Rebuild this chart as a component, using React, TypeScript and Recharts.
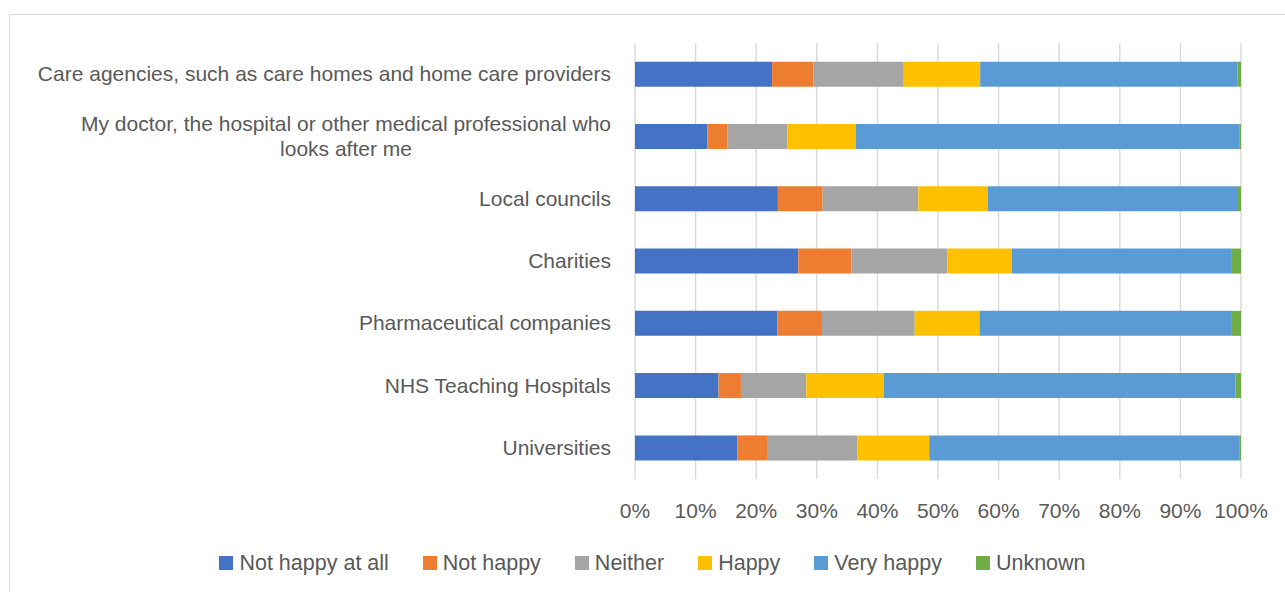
import { Bar, BarChart, CartesianGrid, XAxis, YAxis } from "recharts";

const categories = [
  "Care agencies, such as care homes and home care providers",
  "My doctor, the hospital or other medical professional who looks after me",
  "Local councils ",
  "Charities",
  "Pharmaceutical companies",
  "NHS Teaching Hospitals",
  "Universities",
];

const notHappyAtAll = [22.6, 11.9, 23.6, 26.9, 23.5, 13.8, 16.9];
const notHappy = [6.8, 3.3, 7.4, 8.8, 7.4, 3.7, 4.9];
const neither = [14.9, 9.9, 15.8, 15.8, 15.3, 10.8, 14.9];
const happy = [12.6, 11.3, 11.5, 10.6, 10.7, 12.8, 11.9];
const veryHappy = [42.4, 63.3, 41.3, 36.3, 41.7, 58.1, 51.3];
const unknown = [0.6, 0.2, 0.5, 1.5, 1.5, 0.9, 0.2];

const xTicks = [0, 0.1, 0.2, 0.3, 0.4, 0.5, 0.6, 0.7, 0.8, 0.9, 1];

const SERIES = [
  { key: "Not happy at all", values: notHappyAtAll, color: "#4472C4" },
  { key: "Not happy", values: notHappy, color: "#ED7D31" },
  { key: "Neither", values: neither, color: "#A5A5A5" },
  { key: "Happy", values: happy, color: "#FFC000" },
  { key: "Very happy", values: veryHappy, color: "#5B9BD5" },
  { key: "Unknown", values: unknown, color: "#70AD47" },
];

const data = categories.map((name, i) => {
  const row: Record<string, number | string> = { name };
  SERIES.forEach((s) => {
    row[s.key] = s.values[i];
  });
  return row;
});

const FONT = "'Liberation Sans', Arial, sans-serif";
const FONT_SIZE = 21;
const TEXT = "#595959";

let ctx: CanvasRenderingContext2D | null = null;
function measure(text: string) {
  if (!ctx) ctx = document.createElement("canvas").getContext("2d");
  if (!ctx) return text.length * FONT_SIZE * 0.5;
  ctx.font = `${FONT_SIZE}px 'Liberation Sans'`;
  return ctx.measureText(text).width;
}

// wrap long category names the way Excel does (centred lines, right-aligned block)
function wrap(label: string, maxWidth: number) {
  const words = label.split(" ");
  const lines: string[] = [];
  let cur = "";
  words.forEach((w) => {
    const next = cur ? `${cur} ${w}` : w;
    if (cur && measure(next) > maxWidth) {
      lines.push(cur);
      cur = w;
    } else {
      cur = next;
    }
  });
  if (cur) lines.push(cur);
  return lines;
}

function CategoryTick(props: any) {
  const { x, y, payload } = props;
  const lines = wrap(String(payload.value).trim(), 578);
  const widest = Math.max(...lines.map(measure));
  const cx = x - widest / 2;
  const lineH = 25;
  const startY = y - 1 - ((lines.length - 1) * lineH) / 2;
  return (
    <text
      fill={TEXT}
      fontSize={FONT_SIZE}
      fontFamily={FONT}
      textAnchor="middle"
      dominantBaseline="central"
    >
      {lines.map((l, i) => (
        <tspan key={i} x={cx} y={startY + i * lineH}>
          {l}
        </tspan>
      ))}
    </text>
  );
}

export default function App() {
  return (
    <div
      style={{
        position: "absolute",
        left: 0,
        top: 0,
        width: 1285,
        height: 592,
        overflow: "hidden",
        background: "#fff",
        fontFamily: FONT,
      }}
    >
      <div
        style={{
          position: "absolute",
          left: 9,
          top: 14,
          width: 1300,
          height: 600,
          border: "1px solid #d9d9d9",
        }}
      />
      <BarChart
        width={1285}
        height={592}
        data={data}
        layout="vertical"
        stackOffset="expand"
        barCategoryGap="30%"
        margin={{ top: 43, right: 44, left: 0, bottom: 73 }}
        style={{ position: "absolute", left: 0, top: 0 }}
      >
        <CartesianGrid
          horizontal={false}
          stroke="#d9d9d9"
          strokeWidth={1.4}
        />
        <XAxis
          type="number"
          domain={[0, 1]}
          ticks={xTicks}
          interval={0}
          tickFormatter={(v: number) => `${Math.round(v * 100)}%`}
          axisLine={false}
          tickLine={false}
          tickSize={0}
          tickMargin={24}
          height={40}
          tick={{ fill: TEXT, fontSize: FONT_SIZE, fontFamily: FONT }}
        />
        <YAxis
          type="category"
          dataKey="name"
          width={635}
          axisLine={false}
          tickLine={false}
          tickSize={0}
          tickMargin={24}
          interval={0}
          tick={<CategoryTick />}
        />
        {SERIES.map((s) => (
          <Bar
            key={s.key}
            dataKey={s.key}
            stackId="a"
            fill={s.color}
            isAnimationActive={false}
          />
        ))}
      </BarChart>
      <div
        style={{
          position: "absolute",
          left: 0,
          top: 550,
          width: 1285,
          paddingLeft: 20,
          boxSizing: "border-box",
          display: "flex",
          justifyContent: "center",
          alignItems: "center",
          fontSize: 21.5,
          color: TEXT,
          lineHeight: "26px",
        }}
      >
        {SERIES.map((s, i) => (
          <div
            key={s.key}
            style={{
              display: "flex",
              alignItems: "center",
              marginLeft: i === 0 ? 0 : 34,
            }}
          >
            <span
              style={{
                display: "inline-block",
                width: 14,
                height: 14,
                background: s.color,
                marginRight: 6,
              }}
            />
            <span>{s.key}</span>
          </div>
        ))}
      </div>
    </div>
  );
}
